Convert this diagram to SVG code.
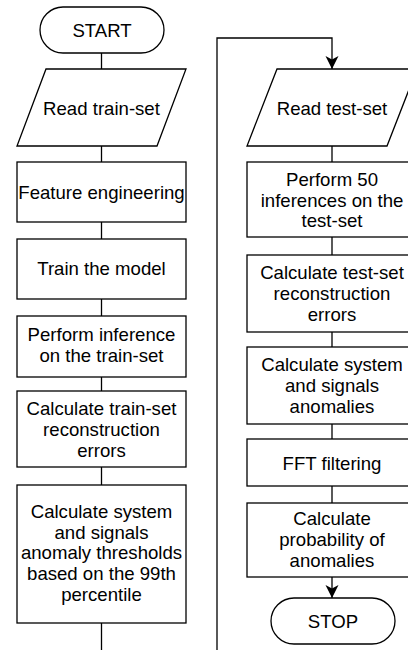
<svg xmlns="http://www.w3.org/2000/svg" width="408" height="650" viewBox="0 0 408 650">
<defs>
<style>
.s{fill:#fff;stroke:#000;stroke-width:1.3}
.c{fill:none;stroke:#000;stroke-width:1.3}
text{font-family:"Liberation Sans",Arial,sans-serif;font-size:18.6px;fill:#000;text-anchor:middle}
</style>
<marker id="arr" markerUnits="userSpaceOnUse" markerWidth="14" markerHeight="14" refX="13" refY="7" orient="auto">
<path d="M0,0.5 L13,7 L0,13.5 L3.5,7 Z" fill="#000"/>
</marker>
</defs>
<rect width="408" height="650" fill="#fff"/>
<g id="connectors">
<path class="c" d="M101.5,53 V69"/>
<path class="c" d="M101.5,146 V162"/>
<path class="c" d="M101.5,222 V239"/>
<path class="c" d="M101.5,299 V316"/>
<path class="c" d="M101.5,377 V391"/>
<path class="c" d="M101.5,467 V485"/>
<path class="c" d="M101.5,623 V665 H217 V38 H332 V69" marker-end="url(#arr)"/>
<path class="c" d="M332,146 V162"/>
<path class="c" d="M332,237 V255"/>
<path class="c" d="M332,332 V347"/>
<path class="c" d="M332,424 V439"/>
<path class="c" d="M332,486 V503"/>
<path class="c" d="M332,577 V598" marker-end="url(#arr)"/>
</g>
<g id="start">
<rect class="s" x="40" y="7" width="124" height="46" rx="23"/>
<text x="102" y="36.5">START</text>
</g>
<g id="read-train">
<polygon class="s" points="46,69 186,69 157,146 17,146"/>
<text x="101.5" y="114.5">Read train-set</text>
</g>
<g id="feature">
<rect class="s" x="17" y="162" width="169" height="60"/>
<text x="101.5" y="198.5">Feature engineering</text>
</g>
<g id="train">
<rect class="s" x="17" y="239" width="169" height="60"/>
<text x="101.5" y="275">Train the model</text>
</g>
<g id="infer-train">
<rect class="s" x="17" y="316" width="169" height="61"/>
<text x="101.5" y="341">Perform inference</text>
<text x="101.5" y="362">on the train-set</text>
</g>
<g id="calc-train">
<rect class="s" x="17" y="391" width="169" height="76"/>
<text x="101.5" y="414.5">Calculate train-set</text>
<text x="101.5" y="435.5">reconstruction</text>
<text x="101.5" y="456.5">errors</text>
</g>
<g id="thresholds">
<rect class="s" x="17" y="485" width="169" height="138"/>
<text x="101.5" y="517.5">Calculate system</text>
<text x="101.5" y="538.5">and signals</text>
<text x="101.5" y="559">anomaly thresholds</text>
<text x="101.5" y="579.5">based on the 99th</text>
<text x="101.5" y="600.5">percentile</text>
</g>
<g id="read-test">
<polygon class="s" points="277,69 417,69 387,146 247,146"/>
<text x="332" y="114.5">Read test-set</text>
</g>
<g id="infer-test">
<rect class="s" x="247" y="162" width="169" height="75"/>
<text x="332" y="185.5">Perform 50</text>
<text x="332" y="206.5">inferences on the</text>
<text x="332" y="227">test-set</text>
</g>
<g id="calc-test">
<rect class="s" x="247" y="255" width="169" height="77"/>
<text x="332" y="279">Calculate test-set</text>
<text x="332" y="300">reconstruction</text>
<text x="332" y="320.5">errors</text>
</g>
<g id="anomalies">
<rect class="s" x="247" y="347" width="169" height="77"/>
<text x="332" y="371">Calculate system</text>
<text x="332" y="392">and signals</text>
<text x="332" y="412.5">anomalies</text>
</g>
<g id="fft">
<rect class="s" x="247" y="439" width="169" height="47"/>
<text x="332" y="469.5">FFT filtering</text>
</g>
<g id="probability">
<rect class="s" x="247" y="503" width="169" height="74"/>
<text x="332" y="525">Calculate</text>
<text x="332" y="546">probability of</text>
<text x="332" y="567">anomalies</text>
</g>
<g id="stop">
<rect class="s" x="271" y="598" width="124" height="46" rx="23"/>
<text x="333" y="628">STOP</text>
</g>
</svg>
